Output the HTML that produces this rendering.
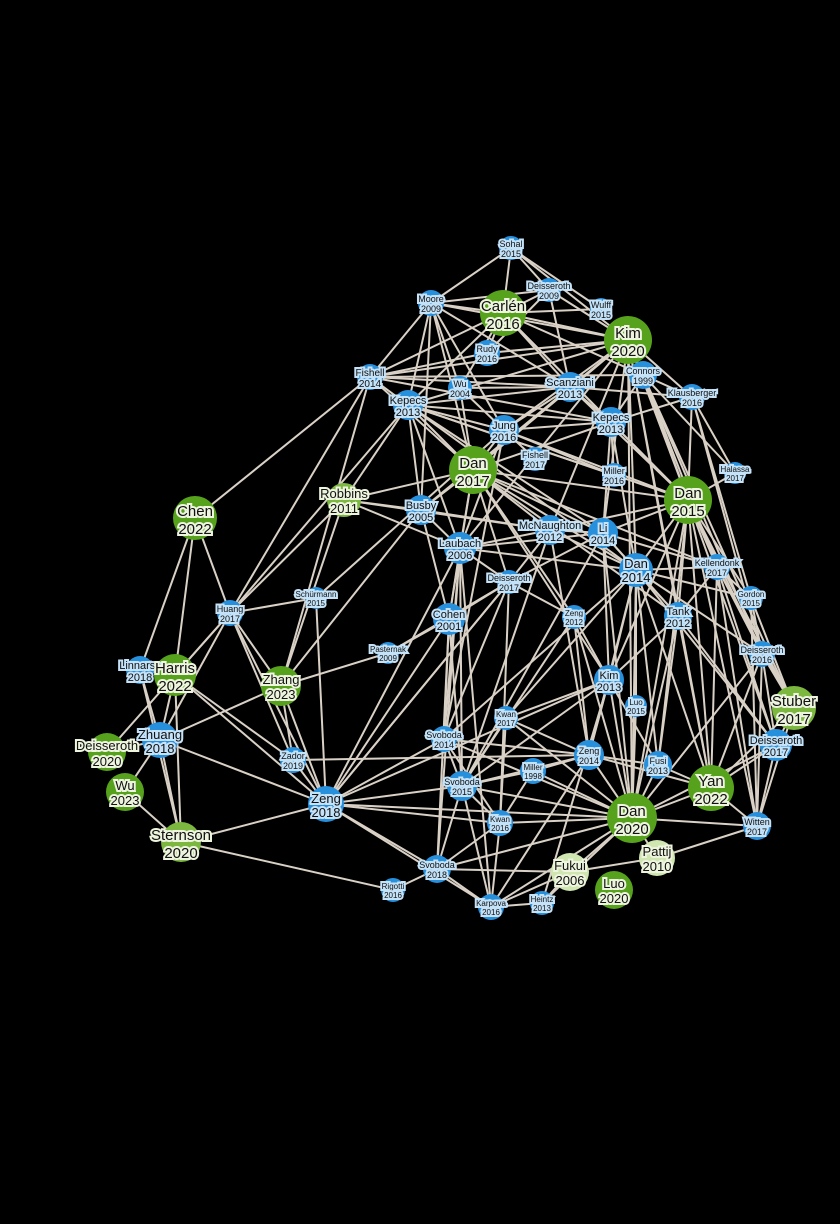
<!DOCTYPE html>
<html><head><meta charset="utf-8"><style>
html,body{margin:0;padding:0;background:#000;width:840px;height:1224px;overflow:hidden}
svg{display:block}
text{font-family:"Liberation Sans",sans-serif;text-anchor:middle;paint-order:stroke;stroke-linejoin:miter}
.b text{fill:#111;stroke:#c4e2f8}
.g text{fill:#111;stroke:#eef5df}
</style></head><body>
<svg id="s" width="840" height="1224" viewBox="0 0 840 1224">
<g id="edges" stroke="#d9d1c6" stroke-width="2"></g>
<g id="nodes"></g>
<g id="labels">
</g>
</svg>
<script>
var N={
sohal:[511,248,12,'b',9,'Sohal','2015'],
deis09:[549,290,12,'b',9,'Deisseroth','2009'],
moore:[431,303,13,'b',9,'Moore','2009'],
wulff:[601,309,11,'b',9,'Wulff','2015'],
carlen:[503,313,23,'g',15,'Carlén','2016'],
kim20:[628,340,24,'g',15,'Kim','2020'],
rudy:[487,353,13,'b',9,'Rudy','2016'],
fish14:[370,377,13,'b',10,'Fishell','2014'],
wu04:[460,388,12,'b',9,'Wu','2004'],
kep13a:[408,405,15,'b',11,'Kepecs','2013'],
scan:[570,387,15,'b',11,'Scanziani','2013'],
conn:[643,375,14,'b',9,'Connors','1999'],
klaus:[692,397,13,'b',9,'Klausberger','2016'],
kep13b:[611,422,15,'b',11,'Kepecs','2013'],
jung:[504,430,15,'b',11,'Jung','2016'],
fish17:[535,459,12,'b',9,'Fishell','2017'],
mil16:[614,475,12,'b',9,'Miller','2016'],
hal:[735,473,11,'b',8,'Halassa','2017'],
dan17:[473,470,24,'g',15,'Dan','2017'],
dan15:[688,500,24,'g',15,'Dan','2015'],
robb:[344,500,17,'g',13,'Robbins','2011','l'],
busby:[421,510,15,'b',11,'Busby','2005'],
mcn:[550,530,15,'b',11,'McNaughton','2012'],
li:[603,533,15,'b',11,'Li','2014'],
laub:[460,548,16,'b',11,'Laubach','2006'],
chen:[195,518,22,'g',15,'Chen','2022'],
dan14:[636,570,17,'b',13,'Dan','2014'],
kell:[717,567,13,'b',9,'Kellendonk','2017'],
deis17a:[509,582,12,'b',9,'Deisseroth','2017'],
gord:[751,598,12,'b',8,'Gordon','2015'],
schur:[316,598,11,'b',8,'Schürmann','2015'],
huang:[230,613,13,'b',9,'Huang','2017'],
zeng12:[574,617,12,'b',8,'Zeng','2012'],
tank:[678,616,14,'b',11,'Tank','2012'],
cohen:[449,619,16,'b',11,'Cohen','2001'],
linn:[140,670,14,'b',11,'Linnarss','2018'],
deis16:[762,654,13,'b',9,'Deisseroth','2016'],
past:[388,653,11,'b',8,'Pasternak','2009'],
harris:[175,675,21,'g',15,'Harris','2022'],
zhang:[281,686,20,'g',13,'Zhang','2023'],
kim13:[609,680,15,'b',11,'Kim','2013'],
luo15:[636,706,11,'b',8,'Luo','2015'],
stuber:[794,708,22,'g',15,'Stuber','2017','l'],
zhuang:[160,740,18,'b',13,'Zhuang','2018'],
svob14:[444,739,13,'b',9,'Svoboda','2014'],
kwan17:[506,718,12,'b',8,'Kwan','2017'],
deis17b:[776,745,16,'b',11,'Deisseroth','2017'],
deis20:[107,752,19,'g',13,'Deisseroth','2020'],
zador:[293,760,13,'b',9,'Zador','2019'],
zeng14:[589,755,15,'b',9,'Zeng','2014'],
mil98:[533,771,13,'b',8,'Miller','1998'],
fusi:[658,765,14,'b',9,'Fusi','2013'],
yan:[711,788,23,'g',15,'Yan','2022'],
wu23:[125,792,19,'g',13,'Wu','2023'],
svob15:[462,786,15,'b',9,'Svoboda','2015'],
zeng18:[326,804,18,'b',13,'Zeng','2018'],
dan20:[632,818,25,'g',15,'Dan','2020'],
kwan16:[500,823,13,'b',8,'Kwan','2016'],
witten:[757,826,14,'b',9,'Witten','2017'],
stern:[181,842,20,'g',15,'Sternson','2020','l'],
pattij:[657,858,18,'g',13,'Pattij','2010','p'],
svob18:[437,869,14,'b',9,'Svoboda','2018'],
fukui:[570,872,19,'g',13,'Fukui','2006','p'],
luo20:[614,890,19,'g',13,'Luo','2020'],
rig:[393,890,12,'b',8,'Rigotti','2016'],
karp:[491,907,13,'b',8,'Karpova','2016'],
heintz:[542,903,12,'b',8,'Heintz','2013']
};
var E=`sohal moore carlen deis09 kim20 wulff
deis09 carlen kim20 moore scan rudy
moore carlen kim20 fish14 kep13a wu04 jung scan dan17 busby
carlen kim20 fish14 kep13a rudy wulff scan dan15 kep13b conn wu04
kim20 fish14 kep13a rudy scan jung dan17 dan15 dan14 li tank dan20 yan klaus conn mcn busby laub
fish14 chen huang kep13a scan kep13b dan17 zhang rudy conn
kep13a dan17 jung kep13b dan15 busby laub scan dan14 mil16 li robb
wu04 dan17 scan jung
scan kep13b dan17 dan15 jung klaus
conn dan15 kep13b klaus kell deis16 stuber hal
klaus dan15 hal deis16 gord kep13b
kep13b dan17 dan15 jung li mil16 dan14
jung dan17 fish17 laub dan15 mil16 svob14
dan17 dan15 busby laub mcn li dan14 robb deis17a cohen zeng12 kim13 tank kell
dan15 li dan14 mcn hal tank kell gord deis16 yan dan20 stuber deis17b witten fusi kim13
robb busby zhang laub mcn
busby laub mcn cohen
laub mcn cohen svob14 svob15 karp svob18 deis17a li dan14
mcn li dan14 deis17a zeng14 svob15
li dan14 tank kell kim13 dan20 deis17a svob15
dan14 tank kell deis16 kim13 dan20 yan gord luo15 kwan17 zeng14 svob14 fusi deis17b
kell tank gord deis16 deis17b stuber yan witten
gord deis16 stuber witten
deis16 stuber deis17b yan witten dan20
tank kim13 dan20 yan fusi deis17b
kim13 dan20 zeng14 kwan17 svob15 fusi heintz
deis17a cohen zeng18 svob14 kwan16 zeng12 past
cohen svob14 svob15 zeng18 svob18 past
zeng12 kim13 zeng14 svob15 dan20
chen harris linn huang
huang harris zhuang zhang schur zeng18 zador kep13a robb
schur zeng18 jung
zhang zeng18 zador past zhuang busby
linn harris zhuang stern
harris zhuang deis20 stern zeng18 zador huang
zhuang deis20 wu23 stern zeng18
wu23 stern
stern zeng18 rig
zador zeng18 zeng14
zeng18 svob15 svob14 svob18 dan20 kwan16 karp kim13 deis17a laub
svob14 svob15 zeng14 kwan16 dan20
kwan17 svob15 kwan16 dan20 zeng14
zeng14 svob15 dan20 mil98 fusi yan karp
svob15 dan20 kwan16 svob18 karp mil98
mil98 dan20 kwan16
kwan16 dan20 svob18 karp
svob18 rig karp dan20 fukui
karp heintz fukui dan20
heintz fukui dan20
fukui dan20 pattij
dan20 yan witten fusi pattij luo15 deis17b
yan witten deis17b stuber fusi
pattij witten
deis17b witten stuber
witten stuber`;
var ns='http://www.w3.org/2000/svg',eg=document.getElementById('edges'),ng=document.getElementById('nodes');
E.split('\n').forEach(function(l){var p=l.trim().split(/\s+/),a=N[p[0]];for(var i=1;i<p.length;i++){var b=N[p[i]];if(!a||!b)continue;var e=document.createElementNS(ns,'line');e.setAttribute('x1',a[0]);e.setAttribute('y1',a[1]);e.setAttribute('x2',b[0]);e.setAttribute('y2',b[1]);eg.appendChild(e);}});
for(var k in N){var n=N[k];var c=document.createElementNS(ns,'circle');c.setAttribute('cx',n[0]);c.setAttribute('cy',n[1]);c.setAttribute('r',n[2]);
var f=n[3]=='b'?'#2790dd':(n[7]=='l'?'#7cb83f':(n[7]=='p'?'#cfe6b0':'#57a21c'));c.setAttribute('fill',f);ng.appendChild(c);}
</script>
<svg style="position:absolute;left:0;top:0" width="840" height="1224">
<style>.lb{font-family:"Liberation Sans",sans-serif;text-anchor:middle;paint-order:stroke;stroke-width:4px;fill:#111}</style>
<g class="lb" id="lbl"></g>
</svg>
<script>
var L=document.getElementById('lbl');
for(var k in N){var n=N[k];var fs=n[4];var t1=document.createElementNS(ns,'text');}
</script>
<div style="position:absolute;left:0;top:0;width:840px;height:1224px;font-family:'Liberation Sans',sans-serif">
<svg width="840" height="1224" style="position:absolute;left:0;top:0">
<g font-family="Liberation Sans, sans-serif" text-anchor="middle" style="paint-order:stroke" stroke-width="4" fill="#111">
<g stroke="#c4e2f8">
<text x="511" y="247" font-size="9">Sohal</text><text x="511" y="257" font-size="9">2015</text>
<text x="549" y="289" font-size="9">Deisseroth</text><text x="549" y="299" font-size="9">2009</text>
<text x="431" y="302" font-size="9">Moore</text><text x="431" y="312" font-size="9">2009</text>
<text x="601" y="308" font-size="9">Wulff</text><text x="601" y="318" font-size="9">2015</text>
<text x="487" y="352" font-size="9">Rudy</text><text x="487" y="362" font-size="9">2016</text>
<text x="370" y="376" font-size="10">Fishell</text><text x="370" y="387" font-size="10">2014</text>
<text x="460" y="387" font-size="9">Wu</text><text x="460" y="397" font-size="9">2004</text>
<text x="408" y="404" font-size="11">Kepecs</text><text x="408" y="416" font-size="11">2013</text>
<text x="570" y="386" font-size="11">Scanziani</text><text x="570" y="398" font-size="11">2013</text>
<text x="643" y="374" font-size="9">Connors</text><text x="643" y="384" font-size="9">1999</text>
<text x="692" y="396" font-size="9">Klausberger</text><text x="692" y="406" font-size="9">2016</text>
<text x="611" y="421" font-size="11">Kepecs</text><text x="611" y="433" font-size="11">2013</text>
<text x="504" y="429" font-size="11">Jung</text><text x="504" y="441" font-size="11">2016</text>
<text x="535" y="458" font-size="9">Fishell</text><text x="535" y="468" font-size="9">2017</text>
<text x="614" y="474" font-size="9">Miller</text><text x="614" y="484" font-size="9">2016</text>
<text x="735" y="472" font-size="8">Halassa</text><text x="735" y="481" font-size="8">2017</text>
<text x="421" y="509" font-size="11">Busby</text><text x="421" y="521" font-size="11">2005</text>
<text x="550" y="529" font-size="11">McNaughton</text><text x="550" y="541" font-size="11">2012</text>
<text x="603" y="532" font-size="11">Li</text><text x="603" y="544" font-size="11">2014</text>
<text x="460" y="547" font-size="11">Laubach</text><text x="460" y="559" font-size="11">2006</text>
<text x="636" y="568" font-size="13">Dan</text><text x="636" y="582" font-size="13">2014</text>
<text x="717" y="566" font-size="9">Kellendonk</text><text x="717" y="576" font-size="9">2017</text>
<text x="509" y="581" font-size="9">Deisseroth</text><text x="509" y="591" font-size="9">2017</text>
<text x="751" y="597" font-size="8">Gordon</text><text x="751" y="606" font-size="8">2015</text>
<text x="316" y="597" font-size="8">Schürmann</text><text x="316" y="606" font-size="8">2015</text>
<text x="230" y="612" font-size="9">Huang</text><text x="230" y="622" font-size="9">2017</text>
<text x="574" y="616" font-size="8">Zeng</text><text x="574" y="625" font-size="8">2012</text>
<text x="678" y="615" font-size="11">Tank</text><text x="678" y="627" font-size="11">2012</text>
<text x="449" y="618" font-size="11">Cohen</text><text x="449" y="630" font-size="11">2001</text>
<text x="140" y="669" font-size="11">Linnarss</text><text x="140" y="681" font-size="11">2018</text>
<text x="762" y="653" font-size="9">Deisseroth</text><text x="762" y="663" font-size="9">2016</text>
<text x="388" y="652" font-size="8">Pasternak</text><text x="388" y="661" font-size="8">2009</text>
<text x="609" y="679" font-size="11">Kim</text><text x="609" y="691" font-size="11">2013</text>
<text x="636" y="705" font-size="8">Luo</text><text x="636" y="714" font-size="8">2015</text>
<text x="160" y="739" font-size="13">Zhuang</text><text x="160" y="753" font-size="13">2018</text>
<text x="444" y="738" font-size="9">Svoboda</text><text x="444" y="748" font-size="9">2014</text>
<text x="506" y="717" font-size="8">Kwan</text><text x="506" y="726" font-size="8">2017</text>
<text x="776" y="744" font-size="11">Deisseroth</text><text x="776" y="756" font-size="11">2017</text>
<text x="293" y="759" font-size="9">Zador</text><text x="293" y="769" font-size="9">2019</text>
<text x="589" y="754" font-size="9">Zeng</text><text x="589" y="764" font-size="9">2014</text>
<text x="533" y="770" font-size="8">Miller</text><text x="533" y="779" font-size="8">1998</text>
<text x="658" y="764" font-size="9">Fusi</text><text x="658" y="774" font-size="9">2013</text>
<text x="462" y="785" font-size="9">Svoboda</text><text x="462" y="795" font-size="9">2015</text>
<text x="326" y="803" font-size="13">Zeng</text><text x="326" y="817" font-size="13">2018</text>
<text x="500" y="822" font-size="8">Kwan</text><text x="500" y="831" font-size="8">2016</text>
<text x="757" y="825" font-size="9">Witten</text><text x="757" y="835" font-size="9">2017</text>
<text x="437" y="868" font-size="9">Svoboda</text><text x="437" y="878" font-size="9">2018</text>
<text x="393" y="889" font-size="8">Rigotti</text><text x="393" y="898" font-size="8">2016</text>
<text x="491" y="906" font-size="8">Karpova</text><text x="491" y="915" font-size="8">2016</text>
<text x="542" y="902" font-size="8">Heintz</text><text x="542" y="911" font-size="8">2013</text>
</g>
<g stroke="#eef5df">
<text x="503" y="311" font-size="15">Carlén</text><text x="503" y="329" font-size="15">2016</text>
<text x="628" y="338" font-size="15">Kim</text><text x="628" y="356" font-size="15">2020</text>
<text x="473" y="468" font-size="15">Dan</text><text x="473" y="486" font-size="15">2017</text>
<text x="688" y="498" font-size="15">Dan</text><text x="688" y="516" font-size="15">2015</text>
<text x="344" y="498" font-size="13">Robbins</text><text x="344" y="513" font-size="13">2011</text>
<text x="195" y="516" font-size="15">Chen</text><text x="195" y="534" font-size="15">2022</text>
<text x="175" y="673" font-size="15">Harris</text><text x="175" y="691" font-size="15">2022</text>
<text x="281" y="684" font-size="13">Zhang</text><text x="281" y="699" font-size="13">2023</text>
<text x="794" y="706" font-size="15">Stuber</text><text x="794" y="724" font-size="15">2017</text>
<text x="107" y="750" font-size="13">Deisseroth</text><text x="107" y="766" font-size="13">2020</text>
<text x="711" y="786" font-size="15">Yan</text><text x="711" y="804" font-size="15">2022</text>
<text x="125" y="790" font-size="13">Wu</text><text x="125" y="805" font-size="13">2023</text>
<text x="632" y="816" font-size="15">Dan</text><text x="632" y="834" font-size="15">2020</text>
<text x="181" y="840" font-size="15">Sternson</text><text x="181" y="858" font-size="15">2020</text>
<text x="657" y="856" font-size="13">Pattij</text><text x="657" y="871" font-size="13">2010</text>
<text x="570" y="870" font-size="13">Fukui</text><text x="570" y="885" font-size="13">2006</text>
<text x="614" y="888" font-size="13">Luo</text><text x="614" y="903" font-size="13">2020</text>
</g>
</g>
</svg>
</div>
</body></html>
